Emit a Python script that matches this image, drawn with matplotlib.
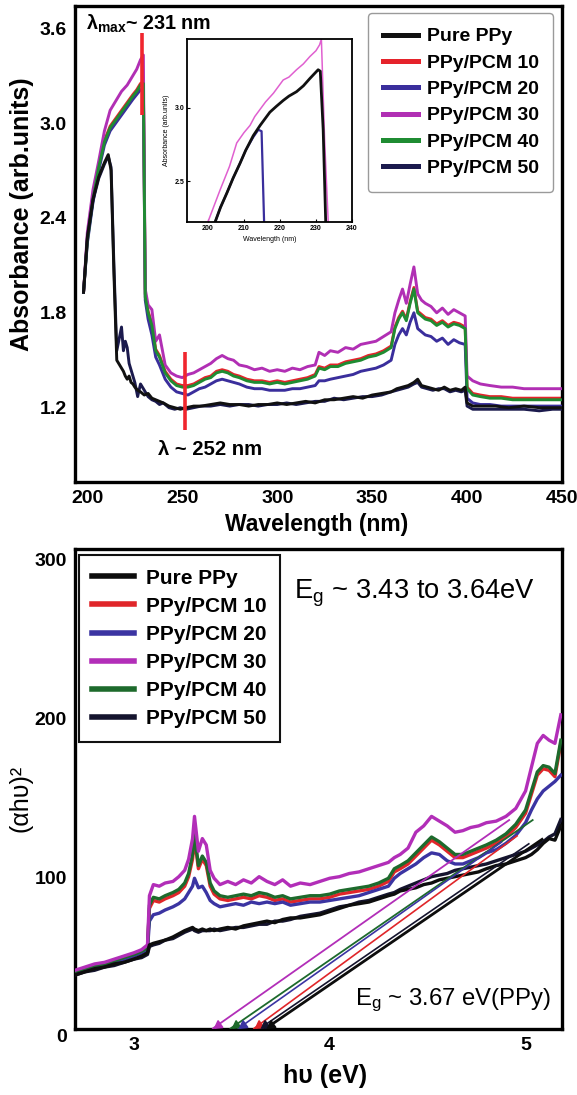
import matplotlib
matplotlib.use('Agg')
import matplotlib.pyplot as plt
from matplotlib import font_manager
from matplotlib.lines import Line2D
from matplotlib.ticker import FormatStrFormatter
from matplotlib.transforms import ScaledTranslation

# ---------------- fonts ----------------
_names = {f.name for f in font_manager.fontManager.ttflist}
NARROW = 'Liberation Sans Narrow' in _names
BASE = 'Liberation Sans'
NAR = 'Liberation Sans Narrow' if NARROW else 'Liberation Sans'
plt.rcParams['font.family'] = [BASE, 'DejaVu Sans']
plt.rcParams['font.weight'] = 'bold'
plt.rcParams['mathtext.fontset'] = 'custom'
plt.rcParams['mathtext.rm'] = NAR + ':regular'
plt.rcParams['mathtext.bf'] = NAR + ':bold'
plt.rcParams['mathtext.it'] = NAR + ':italic'
nk = 1.0 if NARROW else 0.82

# ---------------- data: UV-vis spectra (top) ----------------
series_names = ['Pure PPy', 'PPy/PCM 10', 'PPy/PCM 20', 'PPy/PCM 30', 'PPy/PCM 40', 'PPy/PCM 50']

wl_hi = [198, 200, 203, 206, 209, 212, 215, 218, 221, 224,
         226, 228, 229.5, 230.5, 232, 234, 236, 238, 241, 244,
         247, 250, 253, 256, 259, 262, 265, 268, 271, 274,
         277, 280, 284, 288, 292, 296, 300, 304, 308, 312,
         316, 320, 322, 325, 328, 332, 336, 340, 344, 348,
         352, 356, 360, 362, 364, 366, 368, 370, 372, 374,
         376, 378, 381, 384, 387, 390, 393, 396, 399, 400,
         403, 407, 412, 418, 424, 430, 436, 442, 450]

abs_pcm30 = [1.93, 2.31, 2.58, 2.76, 2.95, 3.08, 3.14, 3.20, 3.24, 3.30,
             3.34, 3.40, 3.43, 1.95, 1.85, 1.82, 1.62, 1.66, 1.47, 1.42,
             1.40, 1.39, 1.41, 1.42, 1.44, 1.46, 1.48, 1.51, 1.53, 1.51,
             1.50, 1.47, 1.46, 1.44, 1.45, 1.43, 1.44, 1.43, 1.45, 1.44,
             1.46, 1.47, 1.55, 1.53, 1.56, 1.55, 1.58, 1.57, 1.60, 1.61,
             1.62, 1.65, 1.68, 1.80, 1.88, 1.95, 1.86, 1.98, 2.09, 1.92,
             1.88, 1.86, 1.84, 1.80, 1.83, 1.79, 1.82, 1.80, 1.78, 1.40,
             1.37, 1.35, 1.34, 1.33, 1.33, 1.32, 1.32, 1.32, 1.32]

abs_pcm40 = [1.93, 2.25, 2.52, 2.72, 2.88, 2.97, 3.02, 3.07, 3.12, 3.17,
             3.20, 3.24, 3.25, 1.90, 1.80, 1.72, 1.56, 1.52, 1.42, 1.37,
             1.34, 1.33, 1.33, 1.34, 1.36, 1.38, 1.39, 1.42, 1.43, 1.42,
             1.40, 1.39, 1.37, 1.36, 1.36, 1.35, 1.36, 1.35, 1.36, 1.37,
             1.38, 1.40, 1.45, 1.44, 1.46, 1.46, 1.48, 1.49, 1.50, 1.52,
             1.53, 1.55, 1.58, 1.70, 1.76, 1.80, 1.75, 1.86, 1.95, 1.80,
             1.78, 1.76, 1.75, 1.72, 1.74, 1.71, 1.73, 1.72, 1.70, 1.32,
             1.28, 1.27, 1.26, 1.26, 1.25, 1.25, 1.25, 1.25, 1.25]

abs_pcm10 = [1.93, 2.26, 2.53, 2.73, 2.89, 2.98, 3.03, 3.08, 3.13, 3.18,
             3.21, 3.25, 3.26, 1.92, 1.81, 1.73, 1.57, 1.53, 1.43, 1.38,
             1.35, 1.34, 1.34, 1.35, 1.37, 1.39, 1.40, 1.43, 1.44, 1.43,
             1.41, 1.40, 1.38, 1.37, 1.37, 1.36, 1.37, 1.36, 1.37, 1.38,
             1.39, 1.41, 1.46, 1.45, 1.47, 1.47, 1.49, 1.50, 1.51, 1.53,
             1.54, 1.56, 1.59, 1.71, 1.77, 1.81, 1.76, 1.87, 1.96, 1.81,
             1.79, 1.77, 1.76, 1.73, 1.75, 1.72, 1.74, 1.73, 1.71, 1.33,
             1.29, 1.28, 1.27, 1.27, 1.26, 1.26, 1.26, 1.26, 1.26]

abs_pcm20 = [1.93, 2.24, 2.50, 2.70, 2.86, 2.95, 3.00, 3.05, 3.10, 3.15,
             3.18, 3.21, 3.22, 1.88, 1.76, 1.66, 1.52, 1.47, 1.38, 1.33,
             1.30, 1.29, 1.28, 1.30, 1.32, 1.33, 1.35, 1.37, 1.38, 1.37,
             1.36, 1.35, 1.33, 1.32, 1.32, 1.31, 1.31, 1.31, 1.32, 1.32,
             1.33, 1.34, 1.37, 1.37, 1.38, 1.39, 1.40, 1.41, 1.43, 1.44,
             1.45, 1.47, 1.50, 1.60, 1.66, 1.70, 1.66, 1.74, 1.80, 1.70,
             1.68, 1.66, 1.65, 1.62, 1.64, 1.60, 1.63, 1.61, 1.60, 1.26,
             1.23, 1.22, 1.22, 1.21, 1.21, 1.21, 1.21, 1.21, 1.21]

wl_lo = [198, 200, 203, 206, 209, 211, 212.5, 214, 215.5, 217,
         218, 219, 220, 221, 222, 223, 224, 225, 226.5, 228,
         230, 232, 234, 236, 238, 240, 243, 246, 249, 252,
         256, 260, 265, 270, 275, 280, 285, 290, 295, 300,
         305, 310, 315, 320, 325, 330, 335, 340, 345, 350,
         355, 360, 363, 366, 369, 372, 374, 376, 379, 382,
         385, 388, 391, 394, 397, 399, 400, 403, 408, 415,
         422, 430, 438, 445, 450]

abs_pure = [1.93, 2.28, 2.52, 2.66, 2.75, 2.80, 2.70, 2.05, 1.50, 1.47,
            1.45, 1.43, 1.40, 1.38, 1.40, 1.36, 1.35, 1.33, 1.31, 1.30,
            1.28, 1.29, 1.26, 1.25, 1.24, 1.23, 1.21, 1.20, 1.19, 1.20,
            1.21, 1.21, 1.22, 1.23, 1.22, 1.22, 1.21, 1.22, 1.22, 1.23,
            1.22, 1.23, 1.24, 1.23, 1.25, 1.25, 1.26, 1.27, 1.26, 1.28,
            1.29, 1.30, 1.32, 1.33, 1.34, 1.36, 1.38, 1.34, 1.33, 1.32,
            1.31, 1.33, 1.31, 1.32, 1.31, 1.33, 1.23, 1.21, 1.21, 1.21,
            1.20, 1.21, 1.20, 1.20, 1.20]

abs_pcm50 = [1.93, 2.27, 2.51, 2.65, 2.74, 2.79, 2.72, 2.10, 1.56, 1.65,
             1.71, 1.56, 1.62, 1.58, 1.48, 1.44, 1.40, 1.36, 1.27, 1.35,
             1.31, 1.27, 1.25, 1.24, 1.22, 1.23, 1.20, 1.19, 1.20, 1.19,
             1.20, 1.21, 1.21, 1.22, 1.21, 1.22, 1.22, 1.21, 1.22, 1.22,
             1.23, 1.22, 1.23, 1.24, 1.24, 1.26, 1.25, 1.26, 1.27, 1.27,
             1.28, 1.30, 1.31, 1.32, 1.33, 1.35, 1.36, 1.33, 1.32, 1.31,
             1.32, 1.32, 1.30, 1.31, 1.30, 1.31, 1.21, 1.19, 1.19, 1.19,
             1.19, 1.19, 1.18, 1.19, 1.19]

# red marker lines (lambda_max ~231 nm, lambda ~252 nm)
mark_wl = [229.0, 251.5]
mark_lo = [3.05, 1.06]
mark_hi = [3.57, 1.55]

# inset (zoom of the 200-240 nm peak)
ins_wl_30 = [200, 203.4, 206, 208, 210, 211.7, 213, 214.5, 216, 218.2,
             220.9, 222.5, 224.6, 226.5, 228.3, 230, 231, 231.5, 232.4, 233.4]
ins_abs_30 = [2.22, 2.44, 2.60, 2.76, 2.83, 2.88, 2.94, 2.99, 3.04, 3.10,
              3.19, 3.21, 3.26, 3.30, 3.35, 3.39, 3.43, 3.47, 2.78, 2.22]
ins_wl_pure = [202, 203.5, 205.3, 207, 208.9, 210.5, 212.6, 214.5, 216, 217.2,
               219, 220.9, 222.5, 224.6, 226.5, 228.3, 230.6, 231.2, 232, 232.7]
ins_abs_pure = [2.22, 2.32, 2.42, 2.52, 2.62, 2.71, 2.81, 2.88, 2.93, 2.97,
                3.01, 3.05, 3.08, 3.11, 3.15, 3.20, 3.26, 3.25, 2.85, 2.22]
ins_wl_50 = [202, 203.5, 205.3, 207, 208.9, 210.5, 212.6, 214, 214.9, 215.6]
ins_abs_50 = [2.22, 2.32, 2.42, 2.52, 2.62, 2.71, 2.80, 2.85, 2.84, 2.22]

# ---------------- data: Tauc plot (bottom) ----------------
ev = [2.70, 2.75, 2.80, 2.85, 2.90, 2.95, 3.00, 3.04, 3.07, 3.08,
      3.10, 3.13, 3.16, 3.20, 3.23, 3.26, 3.28, 3.30, 3.31, 3.33,
      3.35, 3.37, 3.39, 3.41, 3.44, 3.48, 3.52, 3.56, 3.60, 3.64,
      3.68, 3.72, 3.76, 3.80, 3.85, 3.90, 3.95, 4.00, 4.05, 4.10,
      4.15, 4.20, 4.25, 4.30, 4.33, 4.36, 4.40, 4.44, 4.48, 4.52,
      4.56, 4.60, 4.64, 4.68, 4.72, 4.76, 4.80, 4.85, 4.90, 4.95,
      5.00, 5.03, 5.06, 5.09, 5.12, 5.15, 5.18]

t_pcm30 = [37, 39, 41, 42, 44, 46, 48, 50, 53, 84,
           91, 90, 92, 93, 96, 100, 107, 120, 134, 112,
           120, 116, 100, 95, 91, 93, 91, 94, 92, 96,
           93, 91, 94, 90, 92, 91, 93, 95, 96, 98,
           99, 101, 103, 105, 108, 110, 114, 124, 128, 134,
           131, 128, 124, 125, 127, 128, 130, 131, 134, 139,
           150, 165, 180, 185, 182, 180, 198]

t_pcm40 = [36, 38, 40, 41, 43, 45, 47, 49, 51, 78,
           83, 82, 84, 86, 88, 92, 98, 110, 123, 103,
           109, 105, 92, 87, 84, 83, 84, 85, 84, 86,
           85, 83, 84, 82, 83, 84, 84, 85, 87, 88,
           89, 90, 92, 95, 101, 103, 106, 111, 116, 121,
           118, 114, 110, 110, 112, 114, 116, 119, 123, 129,
           138, 150, 162, 166, 165, 161, 182]

t_pcm10 = [36, 38, 40, 41, 43, 45, 47, 49, 51, 76,
           81, 80, 82, 84, 86, 90, 96, 107, 120, 101,
           107, 103, 90, 85, 82, 81, 82, 83, 82, 84,
           83, 81, 82, 80, 81, 82, 82, 83, 85, 86,
           87, 88, 90, 93, 99, 101, 104, 109, 114, 119,
           116, 112, 108, 108, 110, 112, 114, 117, 121, 127,
           136, 148, 160, 164, 163, 159, 180]

t_pcm20 = [35, 37, 39, 40, 42, 44, 46, 48, 50, 68,
           72, 73, 75, 77, 79, 82, 86, 90, 95, 89,
           90, 86, 81, 79, 77, 78, 79, 78, 80, 79,
           80, 79, 80, 78, 79, 80, 80, 81, 82, 83,
           84, 86, 88, 90, 95, 98, 101, 104, 108, 111,
           110, 106, 104, 104, 106, 108, 111, 113, 117, 122,
           130, 138, 145, 150, 153, 156, 160]

t_pure = [34, 36, 38, 39, 41, 42, 44, 46, 48, 53,
          54, 55, 56, 58, 60, 62, 63, 64, 63, 62,
          63, 62, 63, 62, 63, 64, 63, 65, 66, 67,
          68, 67, 69, 70, 70, 71, 72, 74, 76, 78,
          79, 80, 82, 84, 85, 87, 88, 89, 91, 92,
          94, 95, 96, 97, 98, 99, 101, 103, 104, 106,
          108, 110, 113, 117, 120, 119, 128]

t_pcm50 = [34, 36, 37, 39, 40, 42, 44, 45, 47, 52,
           53, 54, 56, 57, 59, 61, 62, 63, 62, 61,
           62, 62, 62, 63, 62, 63, 64, 64, 65, 66,
           66, 68, 68, 69, 71, 72, 73, 75, 77, 78,
           80, 81, 83, 85, 86, 88, 90, 92, 94, 96,
           97, 98, 100, 101, 102, 103, 104, 106, 108, 110,
           112, 114, 116, 118, 121, 123, 132]

# linear extrapolations (order: Pure, 10, 20, 30, 40, 50)
tan_x0 = [3.67, 3.61, 3.53, 3.40, 3.49, 3.64]
tan_x1 = [5.09, 4.96, 4.88, 4.92, 5.04, 5.02]
tan_y1 = [120, 122, 118, 132, 132, 117]

# ---------------- styles ----------------
c_top = ['#111111', '#e5232b', '#3a2e9c', '#b12fb4', '#1f8c32', '#1b1a4d']
c_bot = ['#0d0d0d', '#e0262a', '#3b34a2', '#b22eb8', '#1d6a2c', '#15142e']

W, H = 577, 1095
fig = plt.figure(figsize=(W / 100, H / 100), dpi=100)

# ================= TOP PANEL =================
ax1 = fig.add_axes([75 / W, 1 - 482 / H, 487 / W, 476 / H])
lw = 2.1
ax1.plot(wl_hi, abs_pcm10, color=c_top[1], lw=lw, zorder=2)
ax1.plot(wl_hi, abs_pcm20, color=c_top[2], lw=lw, zorder=3)
ax1.plot(wl_hi, abs_pcm30, color=c_top[3], lw=lw, zorder=3)
ax1.plot(wl_hi, abs_pcm40, color=c_top[4], lw=lw, zorder=4)
ax1.plot(wl_lo, abs_pcm50, color=c_top[5], lw=lw, zorder=4)
ax1.plot(wl_lo, abs_pure, color=c_top[0], lw=lw, zorder=5)
ax1.vlines(mark_wl, mark_lo, mark_hi, colors='#f0262e', lw=2.6, zorder=6)

ax1.set_xlim(193.5, 450)
ax1.set_ylim(0.73, 3.74)
ax1.set_xticks([200, 250, 300, 350, 400, 450])
ax1.set_yticks([1.2, 1.8, 2.4, 3.0, 3.6])
ax1.yaxis.set_major_formatter(FormatStrFormatter('%.1f'))
ax1.tick_params(length=0, labelsize=14, pad=6)
for s in ax1.spines.values():
    s.set_linewidth(2.4)

fig.text(22 / W, 1 - 214 / H, 'Absorbance (arb.units)', rotation=90,
         ha='center', va='center', fontsize=18, fontweight='bold')
fig.text(317 / W, 1 - 524 / H, 'Wavelength (nm)', ha='center', va='center',
         fontsize=16.5, fontweight='bold')

ax1.text(0.023, 0.950, r'$\mathbf{\lambda}_{\mathbf{max}}$~ 231 nm', transform=ax1.transAxes,
         fontsize=15 * (1.0 if NARROW else 0.95), family=[NAR, 'DejaVu Sans'],
         ha='left', va='baseline')
ax1.text(0.170, 0.057, 'λ ~ 252 nm', transform=ax1.transAxes,
         fontsize=15 * (1.0 if NARROW else 0.97), family=[NAR, 'DejaVu Sans'],
         ha='left', va='baseline')

h_top = [Line2D([], [], color=c, lw=3.6) for c in c_top]
leg1 = ax1.legend(h_top, series_names, loc='upper left', bbox_to_anchor=(0.602, 0.985),
                  borderaxespad=0, fontsize=14, handlelength=1.8, handletextpad=0.45,
                  labelspacing=0.45, borderpad=0.75, frameon=True, fancybox=True,
                  framealpha=1, edgecolor='#9a9a9a')
leg1.get_frame().set_linewidth(1.0)
leg1.set_zorder(10)

# inset
axi = fig.add_axes([187 / W, 1 - 222 / H, 165 / W, 183 / H])
axi.plot(ins_wl_30, ins_abs_30, color='#e060d0', lw=1.1)
axi.plot(ins_wl_50, ins_abs_50, color='#3a2e9c', lw=1.6)
axi.plot(ins_wl_pure, ins_abs_pure, color='#111111', lw=2.0)
axi.set_xlim(194.2, 239.8)
axi.set_ylim(2.22, 3.47)
axi.set_xticks([200, 210, 220, 230, 240])
axi.set_yticks([2.5, 3.0])
axi.yaxis.set_major_formatter(FormatStrFormatter('%.1f'))
axi.tick_params(direction='in', length=2.5, width=0.8, labelsize=5, pad=2)
for s in axi.spines.values():
    s.set_linewidth(1.3)
axi.set_xlabel('Wavelength (nm)', fontsize=5, labelpad=3)
axi.set_ylabel('Absorbance (arb.units)', fontsize=5, labelpad=3)

# ================= BOTTOM PANEL =================
ax2 = fig.add_axes([75 / W, 1 - 1029 / H, 487 / W, 480 / H])
blw = 2.4
ax2.plot(ev, t_pcm10, color=c_bot[1], lw=blw, zorder=2)
ax2.plot(ev, t_pcm20, color=c_bot[2], lw=blw, zorder=3)
ax2.plot(ev, t_pcm40, color=c_bot[4], lw=blw, zorder=3)
ax2.plot(ev, t_pcm30, color=c_bot[3], lw=blw, zorder=3)
ax2.plot(ev, t_pcm50, color=c_bot[5], lw=blw, zorder=4)
ax2.plot(ev, t_pure, color=c_bot[0], lw=blw, zorder=4)

tan_lw = [2.0, 1.2, 1.2, 1.3, 1.3, 1.2]
for i in [3, 4, 2, 1, 5, 0]:
    c = c_bot[i]
    ax2.plot([tan_x0[i], tan_x1[i]], [0, tan_y1[i]], color=c, lw=tan_lw[i], zorder=5,
             solid_capstyle='butt')
    ax2.plot([tan_x0[i] + 0.03], [2.5], marker=(3, 0, 125), color=c, ms=7,
             zorder=6, clip_on=False)

ax2.set_xlim(2.70, 5.186)
ax2.set_ylim(0, 302.5)
ax2.set_xticks([3, 4, 5])
ax2.set_yticks([0, 100, 200, 300])
ax2.tick_params(length=0, labelsize=14, pad=6)
for s in ax2.spines.values():
    s.set_linewidth(2.4)
# y tick labels sit slightly below their tick positions in the reference
_off = ScaledTranslation(0, -7 / 100, fig.dpi_scale_trans)
for t in ax2.yaxis.get_major_ticks():
    t.label1.set_transform(t.label1.get_transform() + _off)

fig.text(325 / W, 1 - 1076 / H, 'hυ (eV)', ha='center', va='center',
         fontsize=18, fontweight='bold')
fig.text(20 / W, 1 - 798 / H, '(αhυ)²', rotation=90, ha='center', va='center',
         fontsize=18, fontweight='normal')

ax2.text(0.45, 0.896, r'E$_\mathrm{g}$ ~ 3.43 to 3.64eV', transform=ax2.transAxes,
         fontsize=24 * nk, fontweight='normal', family=[NAR, 'DejaVu Sans'],
         ha='left', va='baseline')
ax2.text(0.977, 0.05, r'E$_\mathrm{g}$ ~ 3.67 eV(PPy)', transform=ax2.transAxes,
         fontsize=21 * nk, fontweight='normal', family=[NAR, 'DejaVu Sans'],
         ha='right', va='baseline')

h_bot = [Line2D([], [], color=c, lw=4.0) for c in c_bot]
leg2 = ax2.legend(h_bot, series_names, loc='upper left', bbox_to_anchor=(0.008, 0.9875),
                  borderaxespad=0, fontsize=15, handlelength=2.0, handletextpad=0.55,
                  labelspacing=0.44, borderpad=0.65, frameon=True, fancybox=False,
                  framealpha=1, edgecolor='#111111')
leg2.get_frame().set_linewidth(1.5)
leg2.set_zorder(10)

fig.savefig('out.png', dpi=100)
